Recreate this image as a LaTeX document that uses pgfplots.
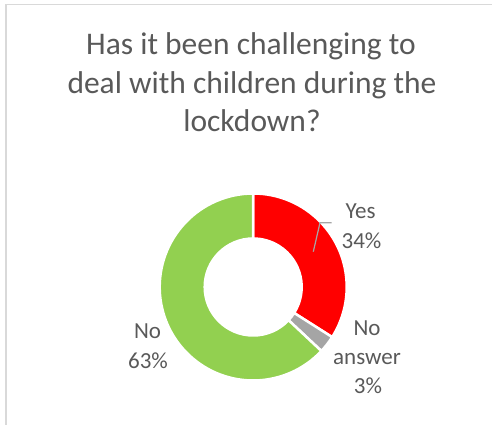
\documentclass[border=0pt]{standalone}
\usepackage{pgfplots}
\usepackage{pgfplotstable}
\pgfplotsset{compat=1.18}
\usepackage{fontspec}
\setmainfont{Carlito}

\definecolor{yescol}{HTML}{FF0000}
\definecolor{nacol}{HTML}{A5A5A5}
\definecolor{nocol}{HTML}{92D050}
\definecolor{txtcol}{HTML}{595959}
\definecolor{framecol}{HTML}{D9D9D9}
\definecolor{leadcol}{HTML}{A6A6A6}

% survey answers, in percent
\pgfplotstableread{
label value
Yes 34
{No answer} 3
No 63
}\answers

\begin{document}
\begin{tikzpicture}
\useasboundingbox (0,0) rectangle (492pt,425pt);

% slice values and their angles (clockwise from 12 o'clock)
\pgfplotstablegetelem{0}{value}\of\answers \let\vYes\pgfplotsretval
\pgfplotstablegetelem{1}{value}\of\answers \let\vNA\pgfplotsretval
\pgfplotstablegetelem{2}{value}\of\answers \let\vNo\pgfplotsretval
\pgfmathsetmacro\aA{90}
\pgfmathsetmacro\aB{\aA-3.6*\vYes}
\pgfmathsetmacro\aC{\aB-3.6*\vNA}
\pgfmathsetmacro\aD{\aC-3.6*\vNo}
\def\Ro{93.5pt}
\def\Ri{48.5pt}

\begin{axis}[
  at={(0,0)}, anchor=south west,
  x=1pt, y=1pt, scale only axis,
  xmin=0, xmax=492, ymin=0, ymax=425,
  hide axis, clip=false,
]
% chart frame
\draw[framecol, line width=1.5pt] (axis cs:5.8,-20) -- (axis cs:5.8,420.7) -- (axis cs:520,420.7);

% title
\begin{scope}[every node/.style={anchor=base, text=txtcol, inner sep=0pt, font=\fontsize{31.5}{38}\selectfont}]
\node at (axis cs:251,370) {Has it been challenging to};
\node at (axis cs:252,331.7) {deal with children during the};
\node at (axis cs:252,293.4) {lockdown?};
\end{scope}

% donut slices
\filldraw[fill=yescol, draw=white, line width=2.5pt]
  ([shift={(\aA:\Ro)}]axis cs:253.2,138) arc[start angle=\aA, end angle=\aB, radius=\Ro]
  -- ([shift={(\aB:\Ri)}]axis cs:253.2,138) arc[start angle=\aB, end angle=\aA, radius=\Ri] -- cycle;
\filldraw[fill=nacol, draw=white, line width=2.5pt]
  ([shift={(\aB:\Ro)}]axis cs:253.2,138) arc[start angle=\aB, end angle=\aC, radius=\Ro]
  -- ([shift={(\aC:\Ri)}]axis cs:253.2,138) arc[start angle=\aC, end angle=\aB, radius=\Ri] -- cycle;
\filldraw[fill=nocol, draw=white, line width=2.5pt]
  ([shift={(\aC:\Ro)}]axis cs:253.2,138) arc[start angle=\aC, end angle=\aD, radius=\Ro]
  -- ([shift={(\aD:\Ri)}]axis cs:253.2,138) arc[start angle=\aD, end angle=\aC, radius=\Ri] -- cycle;

% leader line for the "Yes" label
\draw[leadcol, line width=1.2pt] (axis cs:313.3,173.3) -- (axis cs:320,202.3) -- (axis cs:331.7,202.3);

% data labels
\begin{scope}[every node/.style={anchor=base, text=txtcol, inner sep=0pt, font=\fontsize{23}{28}\selectfont}]
\node at (axis cs:360.5,206.7) {Yes};
\node at (axis cs:361.5,176.7) {\vYes\%};
\node at (axis cs:367,89.3) {No};
\node at (axis cs:367,60.5) {answer};
\node at (axis cs:368,31.7) {\vNA\%};
\node at (axis cs:147.5,86) {No};
\node at (axis cs:148,56.7) {\vNo\%};
\end{scope}
\end{axis}
\end{tikzpicture}
\end{document}
